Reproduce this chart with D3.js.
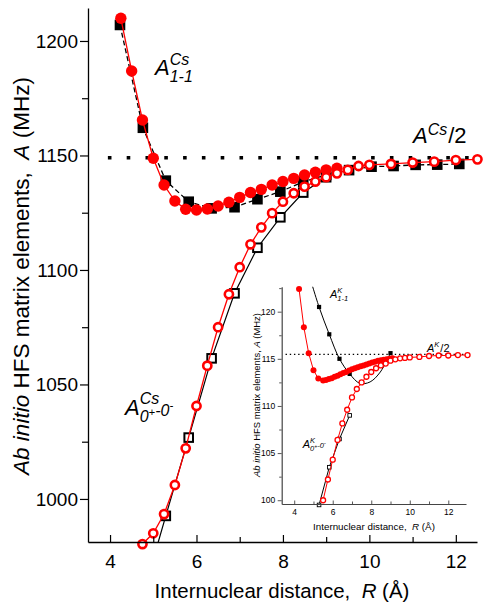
<!DOCTYPE html>
<html><head><meta charset="utf-8">
<script src="https://cdn.jsdelivr.net/npm/d3@7"></script>
<style>
body{margin:0;background:#fff;}
svg{display:block;font-family:"Liberation Sans",Arial,sans-serif;}
</style></head><body>
<svg id="c" width="484" height="603"></svg>
<script>
// ---------- main chart data (Cs) ----------
const csA11CalcR = [4.25,4.5,4.75,5.0,5.25,5.5,5.75,6.0,6.25,6.5,6.75,7.0,7.25,7.5,7.75,8.0,8.25,8.5,8.75,9.0,9.25];
const csA11CalcA = [1209.9,1186.9,1165.5,1148.8,1137.1,1130.1,1126.5,1126.2,1126.6,1127.9,1129.6,1131.7,1133.8,1135.2,1137.1,1138.6,1140.0,1141.5,1142.7,1143.7,1144.4];
const csA00CalcR = [4.75,5.0,5.25,5.5,5.75,6.0,6.25,6.5,6.75,7.0,7.25,7.5,7.75,8.0,8.25,8.5,8.75,9.0,9.25,9.5,9.75,10.0,10.5,11.0,11.5,12.0,12.5];
const csA00CalcA = [980.3,985.0,993.4,1006.1,1022.1,1040.6,1058.2,1075.0,1089.4,1101.2,1111.2,1118.6,1124.8,1129.8,1133.5,1136.4,1138.6,1140.5,1142.2,1143.7,1145.4,1145.9,1146.3,1146.9,1147.3,1148.0,1148.3];
const csA11RefR = [4.23,4.76,5.29,5.82,6.35,6.88,7.41,7.94,8.47,9.0,9.53,10.05,10.56,11.07,11.57,12.08];
const csA11RefA = [1207,1162.1,1139.0,1129.8,1126.9,1127.4,1130.9,1134.2,1138.5,1141.5,1143.6,1145.1,1145.4,1145.9,1146.0,1146.3];
const csA00RefR = [4.76,5.29,5.82,6.35,6.88,7.41,7.94,8.47,9.0];
const csA00RefA = [958,992.6,1026.8,1061.4,1089.8,1109.7,1123.0,1133.8,1140.5];
const csHalf = 1149;
const mainXTicks = [4,6,8,10,12], mainXMinor = [5,7,9,11];
const mainYTicks = [1000,1050,1100,1150,1200], mainYMinor = [1025,1075,1125,1175];

// ---------- inset data (K) ----------
const kA11CalcR = [4.25,4.5,4.75,5.0,5.25,5.5,5.65,5.8,5.95,6.1,6.25,6.4,6.55,6.7,6.85,7.0,7.15,7.3,7.45,7.6,7.75,7.9,8.05,8.2,8.35,8.5,8.65,8.8,8.95,9.1];
const kA11CalcA = [122.4,118.35,115.6,113.8,112.9,112.7,112.75,112.85,112.95,113.1,113.2,113.35,113.5,113.6,113.75,113.9,114.0,114.1,114.2,114.3,114.4,114.5,114.6,114.7,114.8,114.85,114.9,114.95,115.0,115.05];
const kA11RefCurveR = [4.76,5.29,5.82,6.35,6.88,7.41,7.94,8.47,9.0];
const kA11RefCurveA = [124.0,120.5,117.6,115.0,113.4,112.4,112.55,113.6,115.6];
const kA11RefPtsR = [5.29,5.82,6.35,6.88,9.0];
const kA11RefPtsA = [120.5,117.6,115.0,113.4,115.6];
const kA00RefR = [5.29,5.82,6.35,6.88];
const kA00RefA = [99.5,103.5,106.5,109.0];
const kA00CalcR = [5.5,5.75,6.0,6.25,6.5,6.75,7.0,7.25,7.5,7.75,8.0,8.25,8.5,8.75,9.0,9.25,9.5,9.75,10.0,10.5,11.0,11.5,12.0,12.5,13.0];
const kA00CalcA = [100.0,102.2,104.3,106.4,108.15,109.6,110.9,111.8,112.5,113.1,113.6,114.0,114.3,114.5,114.8,114.95,115.05,115.1,115.15,115.2,115.3,115.35,115.35,115.4,115.4];
const kHalf = 115.47;
const inXTicks = [4,6,8,10,12], inXMinor = [5,7,9,11];
const inYTicks = [100,105,110,115,120], inYMinor = [102.5,107.5,112.5,117.5,122.5];

const RED = "#ff0000";
const svg = d3.select("#c");
const zip = (r,a) => r.map((v,i)=>({r:v,a:a[i]}));
const NB = "\u00A0";

// ================= MAIN =================
const x = d3.scaleLinear().domain([3.49,12.49]).range([88,477]);
const y = d3.scaleLinear().domain([981.2,1214.4]).range([542,8]);

svg.append("defs").append("clipPath").attr("id","clipMain")
  .append("rect").attr("x",88).attr("y",8).attr("width",389).attr("height",534);

svg.append("line").attr("x1",x(3.95)).attr("x2",x(12.5)).attr("y1",y(csHalf)).attr("y2",y(csHalf))
  .attr("stroke","#000").attr("stroke-width",3.6).attr("stroke-dasharray","3.6 15.2");

const line = (xs,ys) => d3.line().x(d=>xs(d.r)).y(d=>ys(d.a));

const d11ref = zip(csA11RefR,csA11RefA);
svg.append("path").datum(d11ref).attr("d",line(x,y)).attr("fill","none")
  .attr("stroke","#000").attr("stroke-width",1.3).attr("stroke-dasharray","5 3");
svg.append("g").selectAll("rect").data(d11ref).join("rect")
  .attr("x",d=>x(d.r)-5.3).attr("y",d=>y(d.a)-5.3).attr("width",10.6).attr("height",10.6).attr("fill","#000");

const d00ref = zip(csA00RefR,csA00RefA);
const g00 = svg.append("g").attr("clip-path","url(#clipMain)");
g00.append("path").datum(d00ref).attr("d",line(x,y)).attr("fill","none").attr("stroke","#000").attr("stroke-width",1.2);
g00.selectAll("rect").data(d00ref).join("rect")
  .attr("x",d=>x(d.r)-4.3).attr("y",d=>y(d.a)-4.3).attr("width",8.6).attr("height",8.6)
  .attr("fill","#fff").attr("stroke","#000").attr("stroke-width",2);

const d11c = zip(csA11CalcR,csA11CalcA);
svg.append("path").datum(d11c).attr("d",line(x,y)).attr("fill","none").attr("stroke",RED).attr("stroke-width",1.3);
svg.append("g").selectAll("circle").data(d11c).join("circle")
  .attr("cx",d=>x(d.r)).attr("cy",d=>y(d.a)).attr("r",5.7).attr("fill",RED);

const d00c = zip(csA00CalcR,csA00CalcA);
svg.append("path").datum(d00c).attr("d",line(x,y)).attr("fill","none").attr("stroke",RED).attr("stroke-width",1.3);
svg.append("g").selectAll("circle").data(d00c).join("circle")
  .attr("cx",d=>x(d.r)).attr("cy",d=>y(d.a)).attr("r",4.1).attr("fill","#fff").attr("stroke",RED).attr("stroke-width",2.6);

function styleAxis(g, fs){
  g.selectAll("path.domain").attr("stroke","#000").attr("stroke-width",1.3);
  g.selectAll(".tick line").attr("stroke","#000").attr("stroke-width",1.2);
  g.selectAll("text").attr("font-size",fs).attr("fill","#000").attr("font-family","Liberation Sans, Arial, sans-serif");
}
function minor(g){ g.select("path.domain").remove(); g.selectAll(".tick text").remove(); }
const gx = svg.append("g").attr("transform","translate(0,542)")
  .call(d3.axisBottom(x).tickValues(mainXTicks).tickFormat(d3.format("d")).tickSize(-7).tickPadding(13).tickSizeOuter(0));
styleAxis(gx,19);
const gxm = svg.append("g").attr("transform","translate(0,542)")
  .call(d3.axisBottom(x).tickValues(mainXMinor).tickSize(-5).tickSizeOuter(0));
styleAxis(gxm,19); minor(gxm);
const gy = svg.append("g").attr("transform","translate(88,0)")
  .call(d3.axisLeft(y).tickValues(mainYTicks).tickFormat(d3.format("d")).tickSize(8).tickPadding(2).tickSizeOuter(0));
styleAxis(gy,19);
const gym = svg.append("g").attr("transform","translate(88,0)")
  .call(d3.axisLeft(y).tickValues(mainYMinor).tickSize(6).tickSizeOuter(0));
styleAxis(gym,19); minor(gym);

// fit a text to a target length by adjusting its font size
function fit(t, target){
  const len = t.node().getComputedTextLength();
  const fs = +t.attr("font-size");
  t.attr("font-size", fs*target/len);
}
const xt = svg.append("text").attr("x",282).attr("y",598).attr("text-anchor","middle").attr("font-size",20);
xt.append("tspan").text("Internuclear distance,"+NB+NB);
xt.append("tspan").attr("font-style","italic").text("R");
xt.append("tspan").text(NB+"(Å)");
fit(xt,255);
const yt = svg.append("text").attr("transform","translate(29,276) rotate(-90)").attr("text-anchor","middle").attr("font-size",20);
yt.append("tspan").attr("font-style","italic").text("Ab initio");
yt.append("tspan").text(NB+"HFS matrix elements,"+NB+NB);
yt.append("tspan").attr("font-style","italic").text("A");
yt.append("tspan").text(NB+"(MHz)");
fit(yt,398);

function label(px, py, fs, sfs, sup, subParts, tail, supUp, subDown){
  const a = svg.append("text").attr("x",px).attr("y",py).attr("font-size",fs).attr("font-style","italic").text("A");
  const w = a.node().getComputedTextLength();
  const s = svg.append("text").attr("x",px+w).attr("y",py-supUp).attr("font-size",sfs).attr("font-style","italic").text(sup);
  const sw = s.node().getComputedTextLength();
  if(subParts){
    const t = svg.append("text").attr("x",px+w).attr("y",py+subDown).attr("font-size",sfs).attr("font-style","italic");
    subParts.forEach(p=>{
      if(p.sup){ t.append("tspan").attr("dy",-sfs*0.4).attr("font-size",sfs*0.7).text(p.t);
                 t.append("tspan").attr("dy",sfs*0.4).text(""); }
      else t.append("tspan").text(p.t);
    });
  }
  if(tail){
    svg.append("text").attr("x",px+w+sw+1).attr("y",py).attr("font-size",fs).text(tail);
  }
}
label(155,75,22,16,"Cs",[{t:"1-1"}],null,10,7);
label(413,143,22,16,"Cs",null,"/2",8,0);
label(125,415,22,16,"Cs",[{t:"0"},{t:"+",sup:true},{t:"-0"},{t:"-",sup:true}],null,11,7);

// ================= INSET =================
const xi = d3.scaleLinear().domain([3.35,12.92]).range([281.7,466]);
const yi = d3.scaleLinear().domain([99.6,122.65]).range([504,286.7]);
svg.select("defs").append("clipPath").attr("id","clipIn")
  .append("rect").attr("x",281.7).attr("y",286.7).attr("width",190).attr("height",218);

svg.append("line").attr("x1",xi(3.55)).attr("x2",xi(12.9)).attr("y1",yi(kHalf)).attr("y2",yi(kHalf))
  .attr("stroke","#000").attr("stroke-width",1.4).attr("stroke-dasharray","1.4 2.8");

const gi = svg.append("g").attr("clip-path","url(#clipIn)");
gi.append("path").datum(zip(kA11RefCurveR,kA11RefCurveA))
  .attr("d",d3.line().x(d=>xi(d.r)).y(d=>yi(d.a)).curve(d3.curveCatmullRom))
  .attr("fill","none").attr("stroke","#000").attr("stroke-width",1);
gi.selectAll("rect.fs").data(zip(kA11RefPtsR,kA11RefPtsA)).join("rect").attr("class","fs")
  .attr("x",d=>xi(d.r)-2.1).attr("y",d=>yi(d.a)-2.1).attr("width",4.2).attr("height",4.2).attr("fill","#000");
const dk00 = zip(kA00RefR,kA00RefA);
svg.append("path").datum(dk00).attr("d",line(xi,yi)).attr("fill","none").attr("stroke","#000").attr("stroke-width",1);
svg.append("g").selectAll("rect").data(dk00).join("rect")
  .attr("x",d=>xi(d.r)-1.8).attr("y",d=>yi(d.a)-1.8).attr("width",3.6).attr("height",3.6)
  .attr("fill","#fff").attr("stroke","#000").attr("stroke-width",0.9);
const dk11 = zip(kA11CalcR,kA11CalcA);
svg.append("path").datum(dk11).attr("d",line(xi,yi)).attr("fill","none").attr("stroke",RED).attr("stroke-width",1);
svg.append("g").selectAll("circle").data(dk11).join("circle")
  .attr("cx",d=>xi(d.r)).attr("cy",d=>yi(d.a)).attr("r",3).attr("fill",RED);
const dk00c = zip(kA00CalcR,kA00CalcA);
svg.append("path").datum(dk00c).attr("d",line(xi,yi)).attr("fill","none").attr("stroke",RED).attr("stroke-width",1);
svg.append("g").selectAll("circle").data(dk00c).join("circle")
  .attr("cx",d=>xi(d.r)).attr("cy",d=>yi(d.a)).attr("r",2.5).attr("fill","#fff").attr("stroke",RED).attr("stroke-width",1.3);

function styleIn(g){
  g.selectAll("path.domain").attr("stroke","#444").attr("stroke-width",1.2);
  g.selectAll(".tick line").attr("stroke","#444").attr("stroke-width",0.9);
  g.selectAll("text").attr("font-size",8.5).attr("fill","#000").attr("font-family","Liberation Sans, Arial, sans-serif");
}
const gix = svg.append("g").attr("transform","translate(0,504)")
  .call(d3.axisBottom(xi).tickValues(inXTicks).tickFormat(d3.format("d")).tickSize(-3.5).tickPadding(5).tickSizeOuter(0));
styleIn(gix);
const gixm = svg.append("g").attr("transform","translate(0,504)")
  .call(d3.axisBottom(xi).tickValues(inXMinor).tickSize(-2.5).tickSizeOuter(0));
styleIn(gixm); minor(gixm);
const giy = svg.append("g").attr("transform","translate(281.7,0)")
  .call(d3.axisLeft(yi).tickValues(inYTicks).tickFormat(d3.format("d")).tickSize(4).tickPadding(2.5).tickSizeOuter(0));
styleIn(giy);
const giym = svg.append("g").attr("transform","translate(281.7,0)")
  .call(d3.axisLeft(yi).tickValues(inYMinor).tickSize(2.5).tickSizeOuter(0));
styleIn(giym); minor(giym);

const ixt = svg.append("text").attr("x",374).attr("y",530).attr("text-anchor","middle").attr("font-size",9.5);
ixt.append("tspan").text("Internuclear distance,"+NB+NB);
ixt.append("tspan").attr("font-style","italic").text("R");
ixt.append("tspan").text(NB+"(Å)");
fit(ixt,122);
const iyt = svg.append("text").attr("transform","translate(260,395) rotate(-90)").attr("text-anchor","middle").attr("font-size",8.6);
iyt.append("tspan").attr("font-style","italic").text("Ab initio");
iyt.append("tspan").text(NB+"HFS matrix elements,"+NB);
iyt.append("tspan").attr("font-style","italic").text("A");
iyt.append("tspan").text(NB+"(MHz)");
fit(iyt,164);

label(330,298,11,7.5,"K",[{t:"1-1"}],null,5,3);
label(427,352,11,7.5,"K",null,"/2",5,0);
label(302.7,448,11,7.5,"K",[{t:"0"},{t:"+",sup:true},{t:"-0"},{t:"-",sup:true}],null,5,3);
</script>
</body></html>
